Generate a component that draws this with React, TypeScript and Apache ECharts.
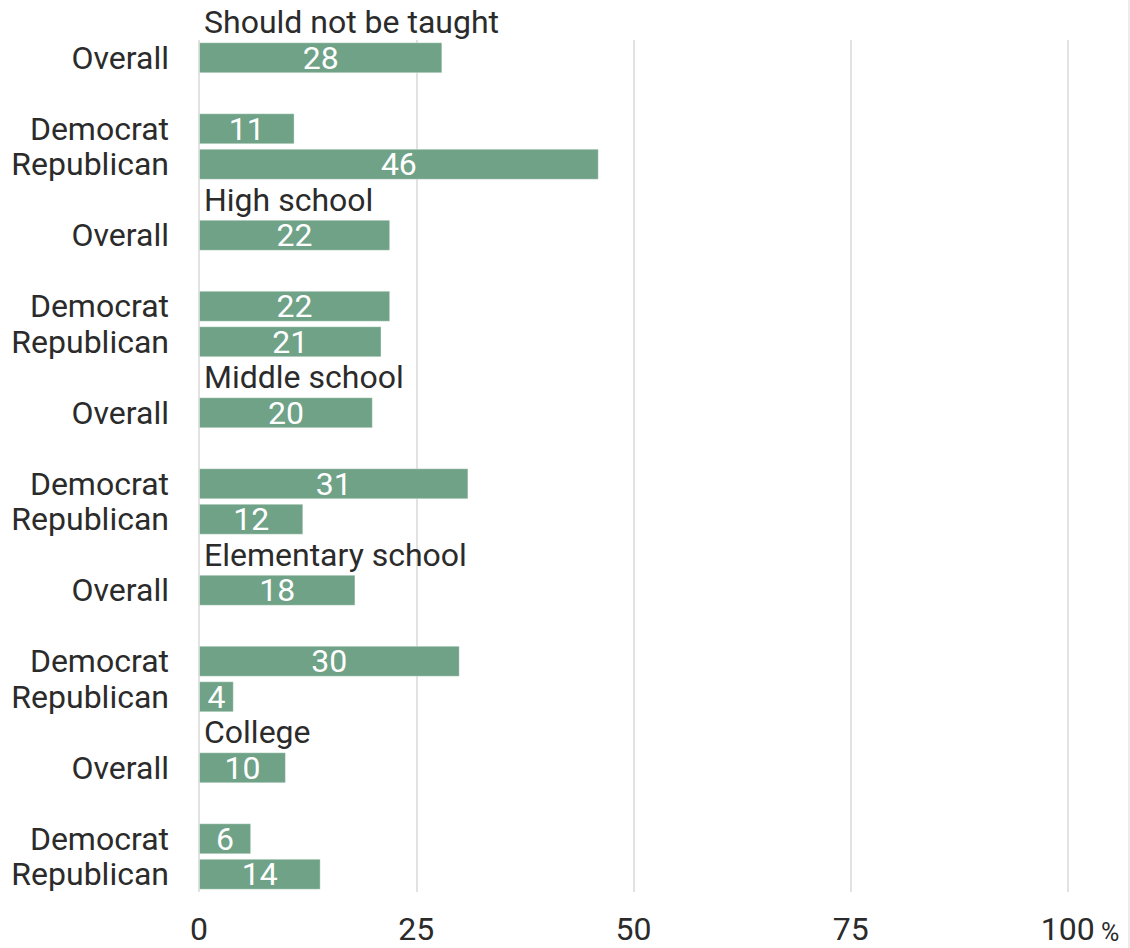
import React, { useEffect, useRef } from "react";
import * as echarts from "echarts";

const groups = ["Should not be taught", "High school", "Middle school", "Elementary school", "College"];
const rowNames = ["Overall", "Democrat", "Republican"];
const overall = [28, 22, 20, 18, 10];
const democrat = [11, 22, 31, 30, 6];
const republican = [46, 21, 12, 4, 14];
const xTicks = [0, 25, 50, 75, 100];

const BAR_COLOR = "#6fa287";
const TEXT = "#2b2b2b";
const FONT = "Roboto";
const FS = 32;

export default function App() {
  const ref = useRef<HTMLDivElement>(null);
  useEffect(() => {
    if (!ref.current) return;
    const chart = echarts.init(ref.current, undefined, { renderer: "svg" });

    const slots: string[] = [];
    const values: any[] = [];
    const titlePoints: any[] = [];
    groups.forEach((g, i) => {
      if (i > 0) {
        slots.push(`title_${i}`);
        values.push("-");
      }
      slots.push(`${rowNames[0]}_${i}`);
      values.push(overall[i]);
      titlePoints.push({ value: [0, `${rowNames[0]}_${i}`], title: g });
      slots.push(`blank_${i}`);
      values.push("-");
      slots.push(`${rowNames[1]}_${i}`);
      values.push(democrat[i]);
      slots.push(`${rowNames[2]}_${i}`);
      values.push(republican[i]);
    });

    chart.setOption({
      animation: false,
      grid: { left: 199, right: 62, top: 40, bottom: 56, containLabel: false },
      xAxis: {
        type: "value",
        min: xTicks[0],
        max: xTicks[xTicks.length - 1],
        interval: 25,
        axisLine: { show: false },
        axisTick: { show: false },
        splitLine: { show: true, lineStyle: { color: "#e2e2e2", width: 2 } },
        axisLabel: {
          margin: 21,
          fontSize: FS,
          color: TEXT,
          fontFamily: FONT,
          formatter: (v: number) => (v === 100 ? "{pad|}100{p| %}" : String(v)),
          rich: {
            pad: { width: 24, fontSize: FS },
            p: { fontSize: 25, color: TEXT, fontFamily: FONT, verticalAlign: "bottom", padding: [6, 0, 0, 0] },
          },
        },
      },
      yAxis: {
        type: "category",
        inverse: true,
        data: slots,
        axisLine: { show: false },
        axisTick: { show: false },
        splitLine: { show: false },
        axisLabel: {
          margin: 30,
          fontSize: FS,
          color: TEXT,
          fontFamily: FONT,
          interval: 0,
          formatter: (v: string) => {
            const n = v.split("_")[0];
            return rowNames.includes(n) ? n : "";
          },
        },
      },
      series: [
        {
          type: "bar",
          data: values,
          barWidth: 31,
          itemStyle: { color: BAR_COLOR, borderColor: "rgba(255,255,255,0.35)", borderWidth: 1 },
          label: {
            show: true,
            position: "inside",
            color: "#ffffff",
            fontSize: FS,
            fontFamily: FONT,
          },
        },
        {
          type: "scatter",
          data: titlePoints,
          symbolSize: 0,
          itemStyle: { color: TEXT, opacity: 1 },
          label: {
            show: true,
            position: "right",
            distance: 5,
            offset: [0, -35.5],
            color: TEXT,
            opacity: 1,
            fontSize: FS,
            fontFamily: FONT,
            formatter: (p: any) => p.data.title,
          },
          z: 5,
        },
      ],
      graphic: [
        {
          type: "rect",
          right: 0,
          top: 0,
          shape: { width: 2, height: 948 },
          style: { fill: "#ececec" },
        },
      ],
    });
    return () => chart.dispose();
  }, []);
  return (
    <div
      ref={ref}
      style={{ position: "fixed", left: 0, top: 0, width: 1130, height: 948, background: "#fff" }}
    />
  );
}
